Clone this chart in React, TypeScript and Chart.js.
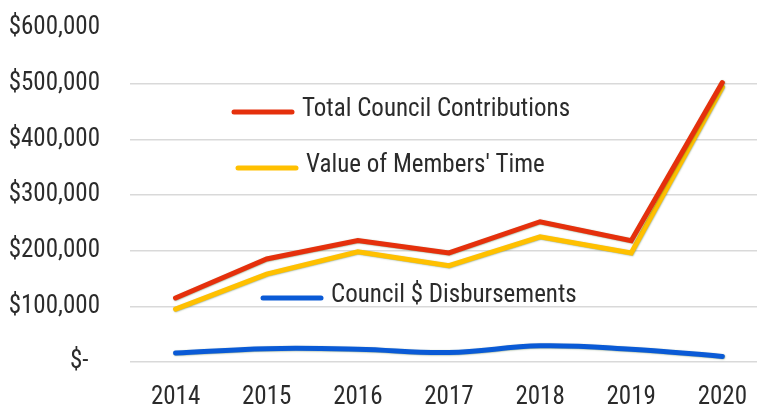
import React, { useEffect, useRef } from "react";
import { Chart, registerables } from "chart.js";

Chart.register(...registerables);

const years = ["2014", "2015", "2016", "2017", "2018", "2019", "2020"];
const totalContributions = [115000, 185000, 218000, 196000, 252000, 218000, 502000];
const membersTime = [95000, 158000, 198000, 173000, 225000, 196000, 494000];
const disbursements = [16000, 24000, 23000, 17000, 29000, 23000, 10000];
const seriesNames = ["Total Council Contributions", "Value of Members' Time", "Council $ Disbursements"];
const yTicks = [0, 100000, 200000, 300000, 400000, 500000, 600000];

const FONT = "Roboto, 'Liberation Sans', sans-serif";
const STRETCH = "condensed";
const RED = "#e5300c";
const YELLOW = "#ffc000";
const BLUE = "#0a5ad6";
const TEXT = "#2b2b2b";

const fmtMoney = (v: number) => (v === 0 ? "$-  " : "$" + v.toLocaleString("en-US"));

// legend entries placed inside the plot, offsets relative to chart area (px)
const legendSpots = [
  { dx: 104, dy: 82, color: RED },
  { dx: 108, dy: 138, color: YELLOW },
  { dx: 133, dy: 268, color: BLUE },
];

const floatingLegend = {
  id: "floatingLegend",
  afterDraw(chart: any) {
    const { ctx, chartArea } = chart;
    ctx.save();
    ctx.font = `${STRETCH} 25px ${FONT}`;
    ctx.textBaseline = "middle";
    ctx.textAlign = "left";
    legendSpots.forEach((s, i) => {
      const x = chartArea.left + s.dx;
      const y = chartArea.top + s.dy;
      ctx.strokeStyle = s.color;
      ctx.lineWidth = 5;
      ctx.lineCap = "round";
      ctx.beginPath();
      ctx.moveTo(x, y + 2);
      ctx.lineTo(x + 58, y + 2);
      ctx.stroke();
      ctx.fillStyle = TEXT;
      ctx.fillText(seriesNames[i], x + 68, y);
    });
    ctx.restore();
  },
};

const lineShadow = {
  id: "lineShadow",
  beforeDatasetDraw(chart: any) {
    const ctx = chart.ctx;
    ctx.save();
    ctx.shadowColor = "rgba(50,90,30,0.45)";
    ctx.shadowBlur = 1.5;
    ctx.shadowOffsetX = 0.5;
    ctx.shadowOffsetY = 0.5;
  },
  afterDatasetDraw(chart: any) {
    chart.ctx.restore();
  },
};

export default function App() {
  const ref = useRef<HTMLCanvasElement | null>(null);
  useEffect(() => {
    if (!ref.current) return;
    const tickFont = { family: FONT, size: 25, weight: STRETCH as any };
    const chart = new Chart(ref.current, {
      type: "line",
      data: {
        labels: years,
        datasets: [
          {
            label: seriesNames[0],
            data: totalContributions,
            borderColor: RED,
            borderWidth: 5,
            pointRadius: 0,
            tension: 0,
            borderCapStyle: "round",
          },
          {
            label: seriesNames[1],
            data: membersTime,
            borderColor: YELLOW,
            borderWidth: 5,
            pointRadius: 0,
            tension: 0,
            borderCapStyle: "round",
          },
          {
            label: seriesNames[2],
            data: disbursements,
            borderColor: BLUE,
            borderWidth: 5,
            pointRadius: 0,
            tension: 0.4,
            borderCapStyle: "round",
          },
        ],
      },
      options: {
        animation: false,
        responsive: true,
        maintainAspectRatio: false,
        layout: { padding: { top: 28, right: 0, left: 0, bottom: 0 } },
        plugins: {
          legend: { display: false },
          tooltip: { enabled: false },
        },
        scales: {
          x: {
            offset: true,
            grid: { display: false, drawTicks: false },
            border: { display: false },
            ticks: {
              padding: 21,
              color: TEXT,
              font: tickFont,
              maxRotation: 0,
            },
            afterFit: (s: any) => {
              s.height = 45;
            },
          },
          y: {
            min: 0,
            max: 600000,
            afterBuildTicks: (s: any) => {
              s.ticks = yTicks.map((v) => ({ value: v }));
            },
            grid: {
              drawTicks: false,
              color: (c: any) => (c.tick && c.tick.value === 600000 ? "rgba(0,0,0,0)" : "#d9d9d9"),
              lineWidth: 1.5,
            },
            border: { display: false },
            ticks: {
              padding: 30,
              color: TEXT,
              font: tickFont,
              callback: (v: any) => fmtMoney(Number(v)),
            },
            afterFit: (s: any) => {
              s.width = 130;
              s.paddingTop = 0;
              s.paddingBottom = 0;
            },
          },
        },
      },
      plugins: [lineShadow, floatingLegend],
    });
    return () => chart.destroy();
  }, []);
  return (
    <div style={{ position: "fixed", left: 0, top: 0, width: 757, height: 407, overflow: "hidden", background: "#fff" }}>
      <div style={{ position: "absolute", left: 0, top: 0, width: 768, height: 407 }}>
        <canvas ref={ref} />
      </div>
    </div>
  );
}
